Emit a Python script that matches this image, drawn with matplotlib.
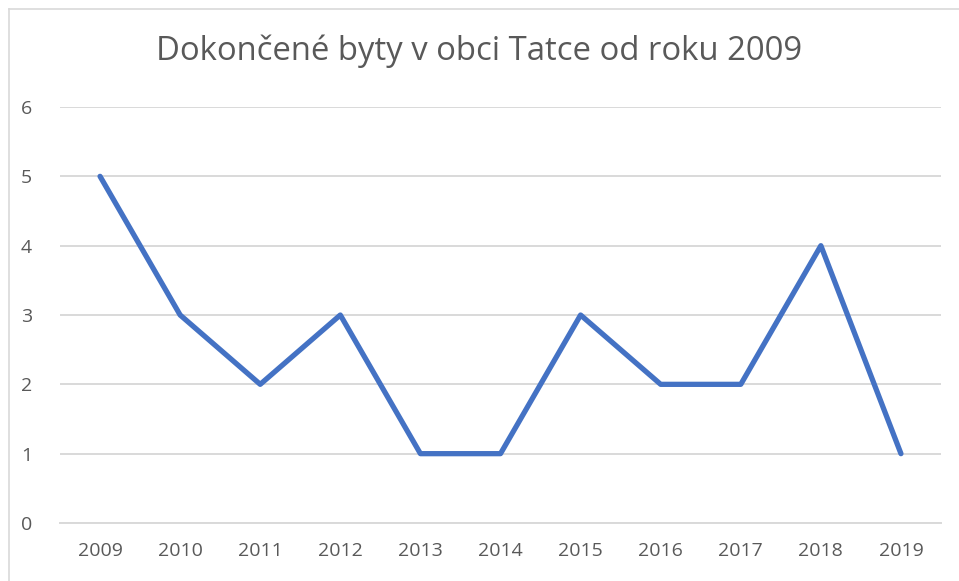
import matplotlib
matplotlib.use("Agg")
from matplotlib import pyplot as plt
from matplotlib.lines import Line2D

years = ['2009', '2010', '2011', '2012', '2013', '2014', '2015', '2016', '2017', '2018', '2019']
flats = [5, 3, 2, 3, 1, 1, 3, 2, 2, 4, 1]
yticks = [0, 1, 2, 3, 4, 5, 6]

plt.rcParams['font.family'] = ['Open Sans', 'DejaVu Sans']

fig = plt.figure(figsize=(9.59, 5.81), dpi=100)
ax = fig.add_axes([60 / 959, 1 - 523 / 581, 881 / 959, 416 / 581])

x = list(range(len(years)))
ax.plot(x, flats, color='#4472C4', linewidth=3.8, solid_capstyle='round', solid_joinstyle='round', zorder=3)

ax.set_xlim(-0.5, len(years) - 0.5)
ax.set_ylim(0, 6)
ax.set_yticks(yticks)
ax.set_xticks(x)
ax.set_xticklabels(years)
ax.grid(axis='y', color='#D9D9D9', linewidth=1.4)
ax.set_axisbelow(True)
for s in ['top', 'right', 'left']:
    ax.spines[s].set_visible(False)
ax.spines['bottom'].set_color('#D9D9D9')
ax.spines['bottom'].set_linewidth(1.4)
ax.tick_params(length=0, labelsize=14, labelcolor='#595959')
ax.tick_params(axis='y', pad=20)
ax.tick_params(axis='x', pad=14)

fig.text(0.5, 1 - 51 / 581, 'Dokončené byty v obci Tatce od roku 2009',
         ha='center', va='center', fontsize=23.7, color='#595959')

# thin chart border (top and left)
fig.add_artist(Line2D([9 / 959, 1], [1 - 9 / 581, 1 - 9 / 581], color='#D9D9D9', linewidth=1.2, transform=fig.transFigure))
fig.add_artist(Line2D([9 / 959, 9 / 959], [0, 1 - 9 / 581], color='#D9D9D9', linewidth=1.2, transform=fig.transFigure))

fig.savefig('out.png', dpi=100)
